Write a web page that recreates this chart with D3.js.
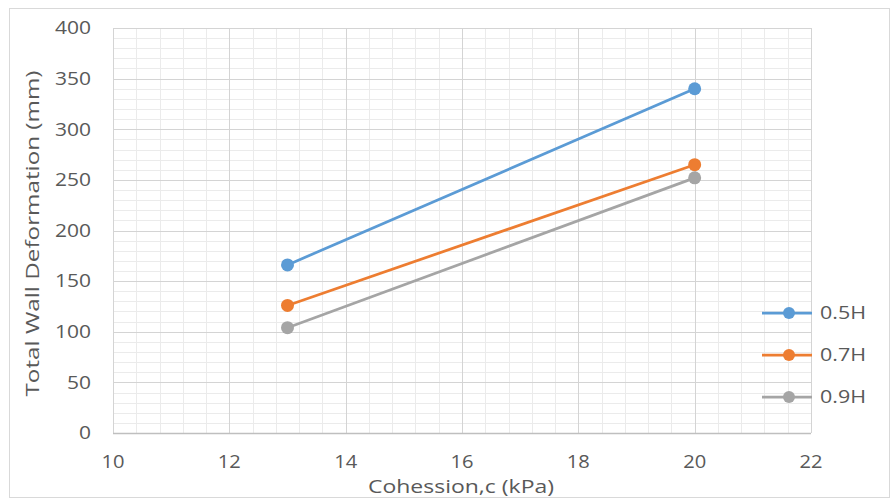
<!DOCTYPE html>
<html lang="en">
<head>
<meta charset="UTF-8">
<title>Total Wall Deformation vs Cohesion</title>
<script src="https://cdnjs.cloudflare.com/ajax/libs/d3/7.8.5/d3.min.js"></script>
<style>
	body { margin: 0; background: #fff; font-family: "Open Sans", "Liberation Sans", sans-serif; }
	.tick-label { font-size: 17.5px; fill: #595959; }
	.axis-title { font-size: 18px; fill: #595959; }
	.legend-label { font-size: 18px; fill: #595959; }
</style>
</head>
<body>
<div id="chart"></div>
<script>
	const cohesion = [13, 20];
	const seriesNames = ["0.5H", "0.7H", "0.9H"];
	const s05 = [166, 340];
	const s07 = [126, 265];
	const s09 = [104, 252];
	const xTicks = [10, 12, 14, 16, 18, 20, 22];
	const yTicks = [0, 50, 100, 150, 200, 250, 300, 350, 400];
	const colors = ["#5b9bd5", "#ed7d31", "#a5a5a5"];

	const series = [s05, s07, s09].map((vals, i) => ({
		name: seriesNames[i],
		color: colors[i],
		points: vals.map((v, j) => ({ x: cohesion[j], y: v }))
	}));

	const W = 894, H = 501;
	const plot = { left: 113, right: 811, top: 28, bottom: 433 };

	const svg = d3.select("#chart").append("svg")
		.attr("width", W).attr("height", H);

	// outer chart border
	svg.append("rect")
		.attr("x", 9.5).attr("y", 8.5)
		.attr("width", 880).attr("height", 489)
		.attr("fill", "#fff").attr("stroke", "#d9d9d9");

	const x = d3.scaleLinear().domain([10, 22]).range([plot.left, plot.right]);
	const y = d3.scaleLinear().domain([0, 400]).range([plot.bottom, plot.top]);

	// minor gridlines
	const xMinor = d3.range(10, 22.001, 0.4);
	const yMinor = d3.range(0, 400.001, 10);
	const grid = svg.append("g");
	grid.selectAll(".xminor").data(xMinor).enter().append("line")
		.attr("x1", d => Math.round(x(d)) + 0.5).attr("x2", d => Math.round(x(d)) + 0.5)
		.attr("y1", plot.top).attr("y2", plot.bottom)
		.attr("stroke", "#ebebeb");
	grid.selectAll(".yminor").data(yMinor).enter().append("line")
		.attr("x1", plot.left).attr("x2", plot.right)
		.attr("y1", d => Math.round(y(d)) + 0.5).attr("y2", d => Math.round(y(d)) + 0.5)
		.attr("stroke", "#ebebeb");

	// major gridlines
	grid.selectAll(".xmajor").data(xTicks).enter().append("line")
		.attr("x1", d => Math.round(x(d)) + 0.5).attr("x2", d => Math.round(x(d)) + 0.5)
		.attr("y1", plot.top).attr("y2", plot.bottom)
		.attr("stroke", "#d4d4d4");
	grid.selectAll(".ymajor").data(yTicks).enter().append("line")
		.attr("x1", plot.left).attr("x2", plot.right)
		.attr("y1", d => Math.round(y(d)) + 0.5).attr("y2", d => Math.round(y(d)) + 0.5)
		.attr("stroke", "#d4d4d4");

	// x axis line
	svg.append("line")
		.attr("x1", plot.left).attr("x2", plot.right)
		.attr("y1", plot.bottom + 0.5).attr("y2", plot.bottom + 0.5)
		.attr("stroke", "#bfbfbf").attr("stroke-width", 1.5);

	// tick labels (the original font is wide, so stretch to ~12px per digit)
	svg.selectAll(".ylab").data(yTicks).enter().append("text")
		.attr("class", "tick-label")
		.attr("x", 91).attr("y", d => y(d))
		.attr("dy", "0.36em").attr("text-anchor", "end")
		.attr("textLength", d => String(d).length * 12)
		.attr("lengthAdjust", "spacingAndGlyphs")
		.text(d => d);
	svg.selectAll(".xlab").data(xTicks).enter().append("text")
		.attr("class", "tick-label")
		.attr("x", d => x(d)).attr("y", plot.bottom + 35)
		.attr("text-anchor", "middle")
		.attr("textLength", d => String(d).length * 11.5)
		.attr("lengthAdjust", "spacingAndGlyphs")
		.text(d => d);

	// axis titles
	svg.append("text").attr("class", "axis-title")
		.attr("transform", `translate(39,${(plot.top + plot.bottom) / 2 + 3}) rotate(-90)`)
		.attr("text-anchor", "middle")
		.attr("textLength", 326)
		.attr("lengthAdjust", "spacingAndGlyphs")
		.text("Total Wall Deformation (mm)");
	svg.append("text").attr("class", "axis-title")
		.attr("x", 461).attr("y", 493)
		.attr("text-anchor", "middle")
		.attr("textLength", 186)
		.attr("lengthAdjust", "spacingAndGlyphs")
		.text("Cohession,c (kPa)");

	// series
	const line = d3.line().x(d => x(d.x)).y(d => y(d.y));
	const sg = svg.selectAll(".series").data(series).enter().append("g");
	sg.append("path")
		.attr("d", d => line(d.points))
		.attr("fill", "none")
		.attr("stroke", d => d.color)
		.attr("stroke-width", 2.75);
	sg.selectAll("circle").data(d => d.points.map(p => ({ ...p, color: d.color }))).enter()
		.append("circle")
		.attr("cx", d => x(d.x)).attr("cy", d => y(d.y))
		.attr("r", 6.5)
		.attr("fill", d => d.color);

	// legend
	const lg = svg.selectAll(".legend").data(series).enter().append("g")
		.attr("transform", (d, i) => `translate(762,${313 + i * 42})`);
	lg.append("line")
		.attr("x1", 0).attr("x2", 50)
		.attr("stroke", d => d.color).attr("stroke-width", 2.75);
	lg.append("circle")
		.attr("cx", 27).attr("r", 6)
		.attr("fill", d => d.color);
	lg.append("text").attr("class", "legend-label")
		.attr("x", 58).attr("dy", "0.36em")
		.attr("textLength", 46)
		.attr("lengthAdjust", "spacingAndGlyphs")
		.text(d => d.name);
</script>
</body>
</html>
